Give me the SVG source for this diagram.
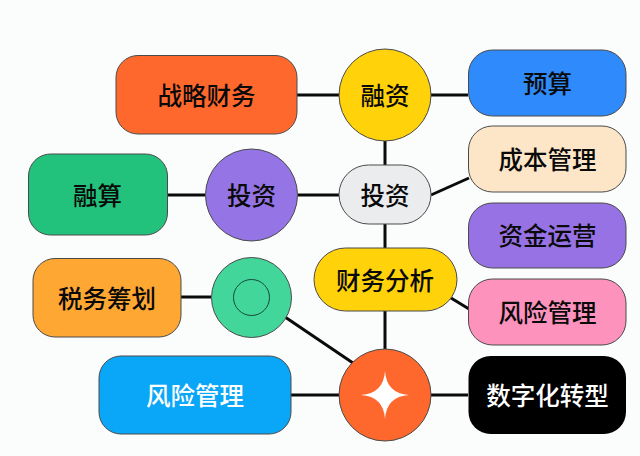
<svg xmlns="http://www.w3.org/2000/svg" width="640" height="456" viewBox="0 0 640 456">
<style>
.s{stroke:#4a4a4a;stroke-width:1}
.c{stroke:#0a0a0a;stroke-width:3;fill:none}
text{font-family:"Noto Sans CJK SC","Noto Sans CJK JP",sans-serif;font-size:24.5px;font-weight:500;text-anchor:middle;dominant-baseline:central;fill:#0a0a0a}
</style>
<rect width="640" height="456" fill="#fbfcfc"/>
<g id="connectors">
<line class="c" x1="297" y1="95" x2="339" y2="95"/>
<line class="c" x1="431" y1="95" x2="468" y2="95"/>
<line class="c" x1="385" y1="140" x2="385" y2="165"/>
<line class="c" x1="431" y1="195" x2="469" y2="178"/>
<line class="c" x1="167" y1="195" x2="205" y2="195"/>
<line class="c" x1="298" y1="195" x2="339" y2="195"/>
<line class="c" x1="385" y1="224" x2="385" y2="248"/>
<line class="c" x1="385" y1="311" x2="385" y2="349"/>
<line class="c" x1="181" y1="297" x2="211" y2="297"/>
<line class="c" x1="285" y1="317" x2="353" y2="363"/>
<line class="c" x1="291" y1="395" x2="339" y2="395"/>
<line class="c" x1="431" y1="395" x2="468" y2="395"/>
<line class="c" x1="451" y1="298" x2="469" y2="309"/>
</g>
<g id="n-strategy"><rect class="s" x="116" y="55.500" width="181" height="78.500" rx="22" fill="#ff682d"/><text x="206.500" y="94">战略财务</text></g>
<g id="n-rongsuan"><rect class="s" x="28.500" y="154" width="139" height="81" rx="22" fill="#22c27c"/><text x="97.500" y="194">融算</text></g>
<g id="n-invest-circle"><circle class="s" cx="251.500" cy="195" r="46" fill="#9575e6"/><text x="251.500" y="194">投资</text></g>
<g id="n-finance"><circle class="s" cx="385" cy="95" r="46" fill="#ffd20a"/><text x="385" y="94">融资</text></g>
<g id="n-budget"><rect class="s" x="468.500" y="50" width="157.500" height="66" rx="24" fill="#2f8bfb"/><text x="547.500" y="82">预算</text></g>
<g id="n-cost"><rect class="s" x="468.500" y="126" width="157.500" height="66" rx="24" fill="#fde6c8"/><text x="547.500" y="158">成本管理</text></g>
<g id="n-capital"><rect class="s" x="468.500" y="203" width="157.500" height="65" rx="24" fill="#9772e4"/><text x="547.500" y="234.500">资金运营</text></g>
<g id="n-invest-pill"><rect class="s" x="339" y="165" width="92" height="59" rx="29.500" fill="#ebecee"/><text x="385" y="194">投资</text></g>
<g id="n-analysis"><rect class="s" x="314" y="248" width="143" height="63" rx="31.500" fill="#ffd20a"/><text x="385" y="279">财务分析</text></g>
<g id="n-risk-pink"><rect class="s" x="468.500" y="279" width="157.500" height="66" rx="24" fill="#fd93bd"/><text x="547.500" y="311">风险管理</text></g>
<g id="n-digital"><rect x="468.500" y="356" width="157.500" height="78" rx="22" fill="#000"/><text x="547.500" y="394" style="fill:#fff">数字化转型</text></g>
<g id="n-tax"><rect class="s" x="33" y="258.500" width="148" height="78.500" rx="22" fill="#ffa733"/><text x="107" y="297">税务筹划</text></g>
<g id="n-ring"><circle class="s" cx="251.500" cy="297.500" r="40" fill="#42d69a"/><circle cx="251.500" cy="297.500" r="18" fill="none" stroke="#164a3a" stroke-width="1"/></g>
<g id="n-risk-blue"><rect class="s" x="99" y="356" width="192" height="78" rx="22" fill="#0aa6f7"/><text x="195" y="394" style="fill:#fff">风险管理</text></g>
<g id="n-star"><circle class="s" cx="385" cy="395" r="46" fill="#ff682d"/><path d="M385 371Q386.500 393.500 409 395Q386.500 396.500 385 419Q383.500 396.500 361 395Q383.500 393.500 385 371Z" fill="#fff"/></g>
</svg>
